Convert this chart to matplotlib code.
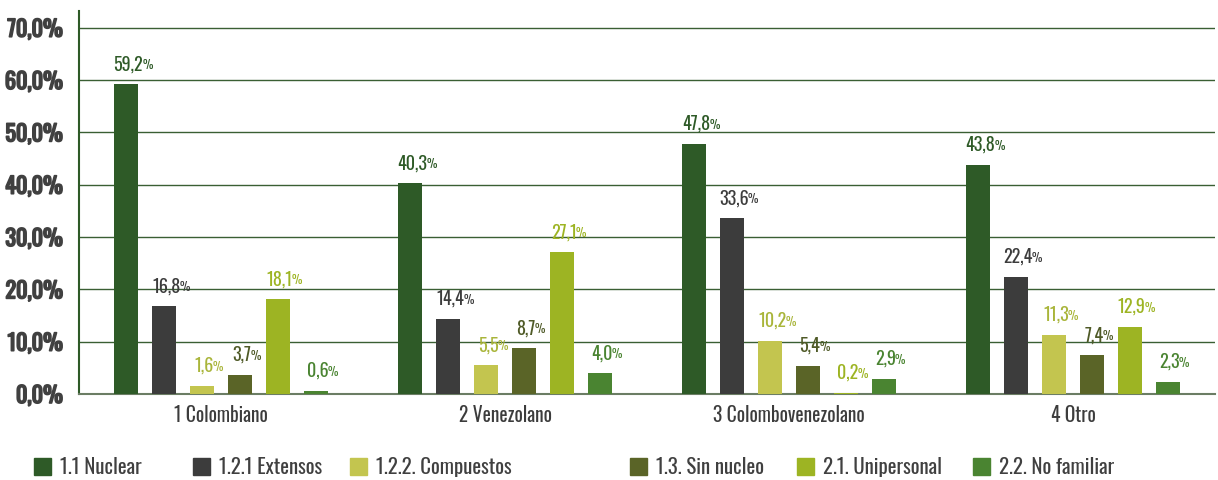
import numpy as np
import matplotlib
matplotlib.use("Agg")
import matplotlib.pyplot as plt
import matplotlib.patheffects as pe
from matplotlib.patches import Rectangle

# Datos
grupos = ["1 Colombiano", "2 Venezolano", "3 Colombovenezolano", "4 Otro"]
series = ["1.1 Nuclear", "1.2.1 Extensos", "1.2.2. Compuestos",
          "1.3. Sin nucleo", "2.1. Unipersonal", "2.2. No familiar"]
nuclear = [59.2, 40.3, 47.8, 43.8]
extensos = [16.8, 14.4, 33.6, 22.4]
compuestos = [1.6, 5.5, 10.2, 11.3]
sin_nucleo = [3.7, 8.7, 5.4, 7.4]
unipersonal = [18.1, 27.1, 0.2, 12.9]
no_familiar = [0.6, 4.0, 2.9, 2.3]
valores = [nuclear, extensos, compuestos, sin_nucleo, unipersonal, no_familiar]
yticks = [0, 10, 20, 30, 40, 50, 60, 70]

colores = ["#2e5a27", "#3c3c3c", "#c3c54f", "#5a6427", "#9db423", "#4a8431"]
colores_txt = ["#2e5a27", "#3c3c3c", "#a9b53a", "#4f5a27", "#9db423", "#4a8431"]

plt.rcParams['font.family'] = ['Oswald', 'DejaVu Sans']

W, H = 1218, 480
fig = plt.figure(figsize=(W / 100, H / 100), dpi=100)
ax = fig.add_axes([79 / W, 86 / H, 1136 / W, 383 / H])

x = np.arange(len(grupos))
offs = np.linspace(-0.333, 0.333, len(series))
ancho = 0.085

for i, (serie, vals) in enumerate(zip(series, valores)):
    ax.bar(x + offs[i], vals, ancho, color=colores[i], label=serie, zorder=3)
    for xi, v in zip(x + offs[i], vals):
        t = ax.annotate(f"{v:.1f}".replace(".", ","), (xi, v), xytext=(2, 14),
                        textcoords="offset pixels", ha="center", va="baseline",
                        fontsize=13, color=colores_txt[i], zorder=4)
        ax.annotate("%", xy=(1, 1), xycoords=t, xytext=(-1, -4),
                    textcoords="offset pixels", ha="left", va="top",
                    fontsize=8.5, color=colores_txt[i], zorder=4)

ax.set_xlim(-0.5, 3.5)
ax.set_ylim(0, 73.2)
ax.set_yticks(yticks)
ax.set_yticklabels([f"{v:.1f}%".replace(".", ",") for v in yticks],
                   fontsize=16, color="#404040")
for lab in ax.get_yticklabels():
    lab.set_path_effects([pe.withStroke(linewidth=1.2, foreground="#404040")])
ax.set_xticks(x)
ax.set_xticklabels(grupos, fontsize=14, color="#3c3c3c")
ax.tick_params(axis="y", length=0, pad=12)
ax.tick_params(axis="x", length=0, pad=8)
ax.grid(axis="y", color="#3a5f33", linewidth=1, zorder=0)
ax.set_axisbelow(True)
for s in ["top", "right"]:
    ax.spines[s].set_visible(False)
ax.spines["left"].set_color("#2e5a27")
ax.spines["left"].set_linewidth(1.5)
ax.spines["bottom"].set_color("#6b7d64")
ax.spines["bottom"].set_linewidth(1.5)

# Leyenda manual
leyenda_x = [34, 193, 350, 630, 797, 973]
for i, serie in enumerate(series):
    lx = leyenda_x[i]
    fig.add_artist(Rectangle((lx / W, (H - 475) / H), 17 / W, 17 / H,
                             transform=fig.transFigure, color=colores[i]))
    fig.text((lx + 26) / W, (H - 467) / H, serie, fontsize=15,
             color="#404040", ha="left", va="center")

fig.savefig("out.png", dpi=100)
